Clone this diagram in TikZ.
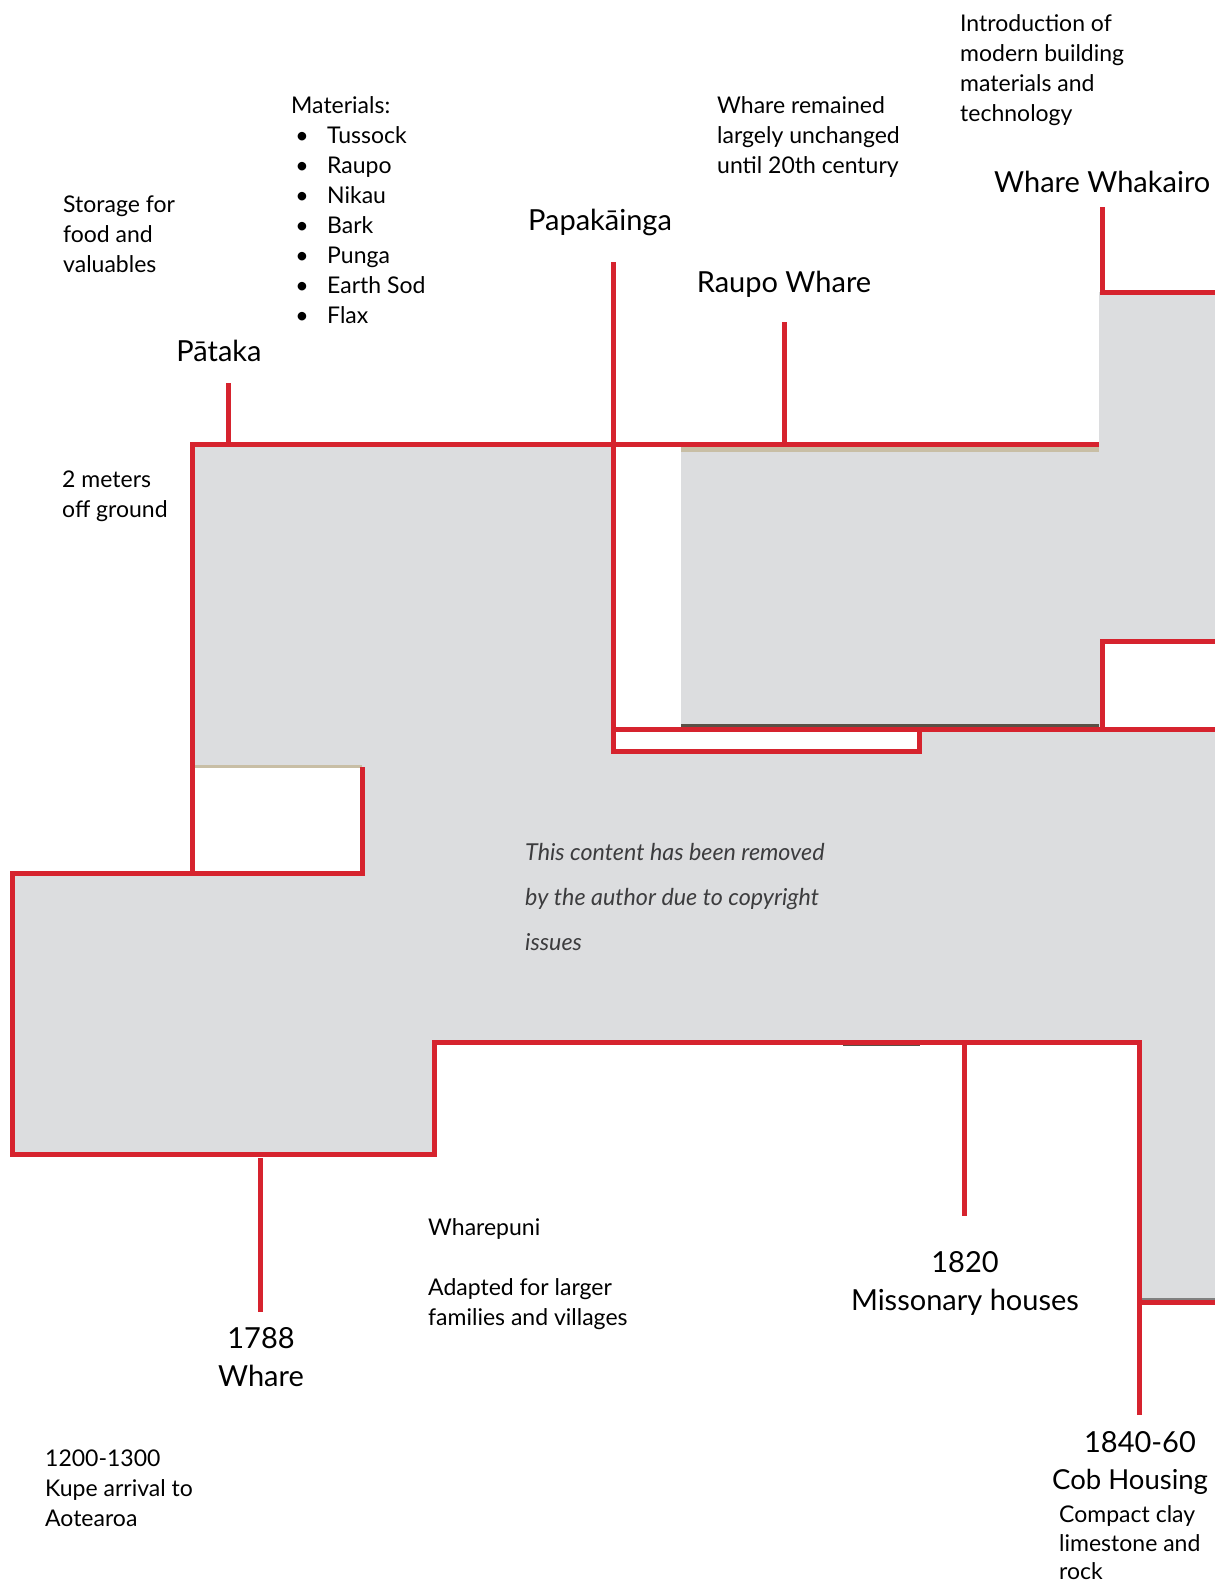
\documentclass[tikz,border=0pt]{standalone}
\usepackage{fontspec}
\setmainfont{Lato}
\definecolor{tlred}{RGB}{214,35,46}
\definecolor{photo}{RGB}{220,221,223}
\definecolor{notegray}{RGB}{60,60,62}
\definecolor{tan}{RGB}{200,190,165}
\definecolor{darkedge}{RGB}{90,80,70}
\begin{document}
\begin{tikzpicture}[x=1pt,y=-1pt,
  redline/.style={draw=tlred,line width=5pt,line join=miter},
  body/.style={font=\fontsize{23}{30}\selectfont,inner sep=0pt},
  title/.style={font=\fontsize{29}{38}\selectfont,inner sep=0pt},
  note/.style={font=\fontsize{23.3}{28}\selectfont\itshape,text=notegray,inner sep=0pt}]
\useasboundingbox (0,0) rectangle (1215,1583);
\clip (0,0) rectangle (1215,1583);
% photo areas
\fill[photo] (192,444) rectangle (613,768);
\fill[photo] (362,729) rectangle (1215,1042);
\fill[photo] (681,448) rectangle (1099,727);
\fill[photo] (1099,292) rectangle (1215,729);
\fill[photo] (12,873) rectangle (434,1154);
\fill[photo] (1139,1042) rectangle (1215,1302);
\fill[white] (613,729) rectangle (919,751);
\fill[white] (1102,641) rectangle (1215,729);
% thin photo edges
\fill[tan] (681,447) rectangle (1099,452);
\fill[darkedge] (681,724) rectangle (1099,726.5);
\fill[tan] (194,765) rectangle (362,768);
\fill[darkedge] (843,1044) rectangle (920,1046);
\fill[gray] (1139,1298) rectangle (1215,1300);
% coordinates
\coordinate (pT) at (228,383); \coordinate (pB) at (228,444);
\coordinate (kT) at (613,262); \coordinate (kB) at (613,751);
\coordinate (rT) at (784,322); \coordinate (rB) at (784,444);
\coordinate (wT) at (1102,207); \coordinate (wB) at (1102,292);
\coordinate (aT) at (260,1158); \coordinate (aB) at (260,1312);
\coordinate (mT) at (964,1042); \coordinate (mB) at (964,1216);
\coordinate (cT) at (1139,1042); \coordinate (cB) at (1139,1415);
% red outlines
\draw[redline] (362,767) -- (362,873) -- (12,873) -- (12,1154) -- (434,1154) -- (434,1042) -- (cT) -- (cB);
\draw[redline] (192,873) -- (192,444) -- (1099,444);
\draw[redline] (pT) -- (pB);
\draw[redline] (kT) -- (kB) -- (919,751) -- (919,729);
\draw[redline] (rT) -- (rB);
\draw[redline] (wT) -- (wB) -- (1215,292);
\draw[redline] (613,729) -- (1215,729);
\draw[redline] (1102,729) -- (1102,641) -- (1215,641);
\draw[redline] (1139,1302) -- (1215,1302);
\draw[redline] (aT) -- (aB);
\draw[redline] (mT) -- (mB);
% text
\node[body,anchor=base west] (s1) at (63,212) {Storage for};
\node[body,anchor=base west] (s2) at (63,242) {food and};
\node[body,anchor=base west] (s3) at (63,272) {valuables};
\node[body,anchor=base west] (mat) at (291,113) {Materials:};
\foreach \t [count=\i] in {Tussock,Raupo,Nikau,Bark,Punga,Earth Sod,Flax}{
  \node[body,anchor=base] (b\i) at (302,113+30*\i) {\textbullet};
  \node[body,anchor=base west] (m\i) at (327,113+30*\i) {\t};
}
\node[title,anchor=base] (pataka) at (219,361) {Pātaka};
\node[body,anchor=base west] (g1) at (62,487) {2 meters};
\node[body,anchor=base west] (g2) at (62,517) {off ground};
\node[title,anchor=base] (papa) at (600,230) {Papakāinga};
\node[title,anchor=base] (raupo) at (784,292) {Raupo Whare};
\node[body,anchor=base west] (u1) at (717,113) {Whare remained};
\node[body,anchor=base west] (u2) at (717,143) {largely unchanged};
\node[body,anchor=base west] (u3) at (717,173) {until 20th century};
\node[body,anchor=base west] (i1) at (960,31) {Introduction of};
\node[body,anchor=base west] (i2) at (960,61) {modern building};
\node[body,anchor=base west] (i3) at (960,91) {materials and};
\node[body,anchor=base west] (i4) at (960,121) {technology};
\node[title,anchor=base west] (whak) at (994,192) {Whare Whakairo};
\node[note,anchor=base west] (n1) at (525,860) {This content has been removed};
\node[note,anchor=base west] (n2) at (525,905) {by the author due to copyright};
\node[note,anchor=base west] (n3) at (525,950) {issues};
\node[body,anchor=base west] (wp) at (428,1235) {Wharepuni};
\node[body,anchor=base west] (ad1) at (428,1295) {Adapted for larger};
\node[body,anchor=base west] (ad2) at (428,1325) {families and villages};
\node[title,anchor=base] (y1788) at (261,1348) {1788};
\node[title,anchor=base] (wh) at (261,1386) {Whare};
\node[body,anchor=base west] (k1) at (45,1466) {1200-1300};
\node[body,anchor=base west] (k2) at (45,1496) {Kupe arrival to};
\node[body,anchor=base west] (k3) at (45,1526) {Aotearoa};
\node[title,anchor=base] (y1820) at (965,1272) {1820};
\node[title,anchor=base] (miss) at (965,1310) {Missonary houses};
\node[title,anchor=base] (y1840) at (1140,1452) {1840-60};
\node[font=\fontsize{27.5}{36}\selectfont,inner sep=0pt,anchor=base west] (cob) at (1052,1489) {Cob Housing};
\node[body,anchor=base west] (c1) at (1059,1522) {Compact clay};
\node[body,anchor=base west] (c2) at (1059,1551) {limestone and};
\node[body,anchor=base west] (c3) at (1059,1579) {rock};
\end{tikzpicture}
\end{document}
